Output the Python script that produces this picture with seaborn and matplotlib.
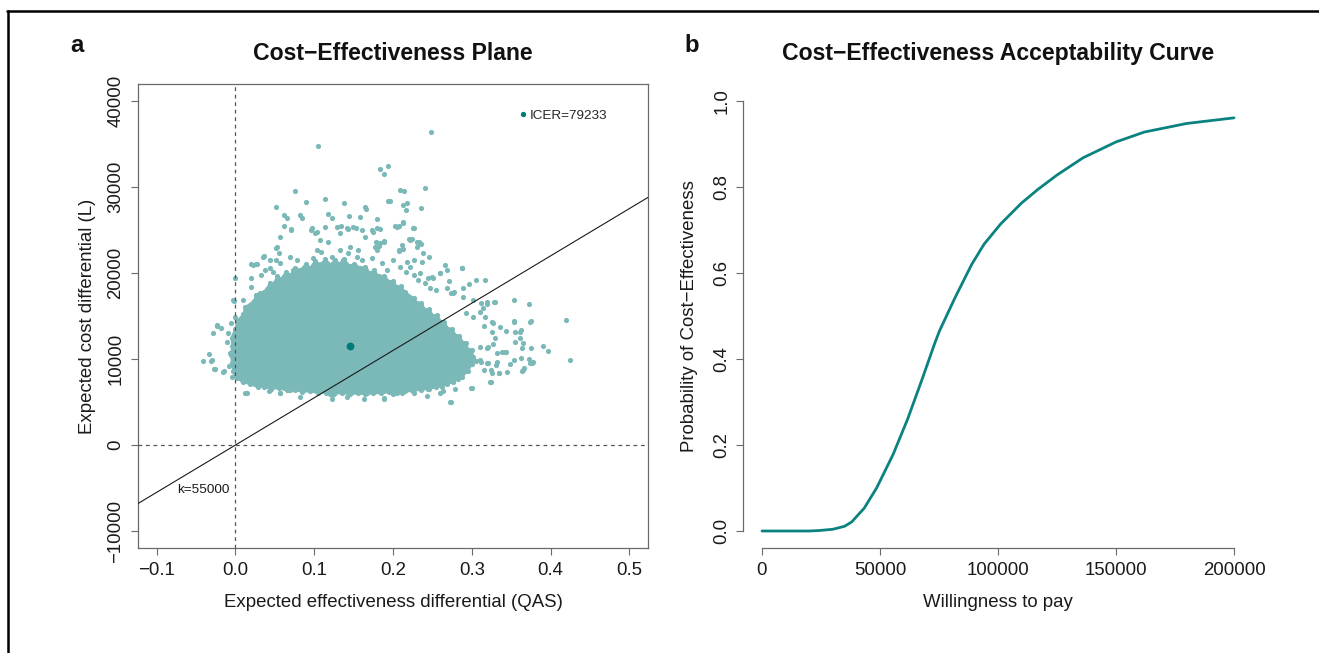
import matplotlib
matplotlib.use("Agg")
import matplotlib.pyplot as plt
from matplotlib.lines import Line2D
import seaborn as sns

# ---------------- data ----------------
# Panel a: dense core of the simulation cloud (outline, data units)
CORE_EFF = [0.010, 0.002, -0.003, -0.004, -0.006, -0.004, -0.005, 0.000, 0.002, 0.010,
            0.012, 0.024, 0.026, 0.036, 0.040, 0.044, 0.048, 0.053, 0.058, 0.064,
            0.070, 0.076, 0.082, 0.089, 0.095, 0.101, 0.108, 0.114, 0.120, 0.126,
            0.132, 0.138, 0.145, 0.151, 0.158, 0.164, 0.170, 0.176, 0.182, 0.189,
            0.195, 0.200, 0.205, 0.210, 0.215, 0.226, 0.231, 0.236, 0.241, 0.246,
            0.251, 0.256, 0.261, 0.265, 0.270, 0.275, 0.280, 0.284, 0.289, 0.292,
            0.296, 0.300, 0.302, 0.305, 0.300, 0.295, 0.287, 0.282, 0.276, 0.268,
            0.262, 0.254, 0.245, 0.235, 0.225, 0.215, 0.205, 0.195, 0.185, 0.175,
            0.165, 0.155, 0.145, 0.135, 0.125, 0.115, 0.105, 0.095, 0.085, 0.075,
            0.065, 0.055, 0.045, 0.036, 0.028, 0.018]
CORE_COST = [7300, 7800, 8600, 9500, 10500, 11500, 12500, 13500, 14400, 15200,
             16000, 16800, 17500, 17800, 18200, 18900, 18700, 19600, 19300, 20100,
             19800, 20600, 20300, 21000, 20600, 21400, 21000, 21600, 20900, 21500,
             21100, 21600, 20800, 21100, 20600, 20700, 20000, 20300, 19600, 19700,
             19000, 19100, 18400, 18500, 17800, 17100, 16500, 16500, 15700, 15800,
             15000, 15100, 14300, 14300, 13500, 13500, 12700, 12700, 11900, 11900,
             11000, 11000, 10200, 9800, 9400, 8600, 7900, 7700, 7300, 7100,
             6800, 6700, 6500, 6450, 6250, 6250, 6100, 6150, 6000, 6050,
             5900, 6000, 5900, 6050, 5950, 6150, 6050, 6250, 6200, 6400,
             6350, 6600, 6550, 6800, 6750, 7100]

# Panel a: individual simulation points outside the dense core
SCATTER_EFF = [
    0.105, 0.248, 0.183, 0.194, 0.188, 0.075, 0.114, 0.090, 0.138, 0.052,
    0.209, 0.214, 0.240, 0.193, 0.196, 0.213, 0.218, 0.216, 0.235, 0.165,
    0.166, 0.158, 0.144, 0.118, 0.123, 0.062, 0.066, 0.082, 0.084, 0.179,
    0.203, 0.208, 0.213, 0.225, 0.061, 0.070, 0.113, 0.129, 0.134, 0.153,
    0.143, 0.096, 0.101, 0.036, 0.053, 0.055, 0.052, 0.020, 0.026, 0.000,
    -0.002, 0.305, 0.317, 0.287, 0.266, 0.260, 0.271, 0.354, 0.372, 0.328,
    0.319, 0.314, 0.297, 0.289, 0.278, 0.274, 0.233, 0.230, 0.235, 0.220,
    0.224, 0.207, 0.213, 0.178, 0.182, 0.188, 0.173, 0.179, 0.183, 0.218,
    0.237, 0.244, 0.249,
    -0.041, -0.031, -0.033, -0.027, -0.015, -0.008, -0.029, -0.023, -0.018, -0.010,
    -0.006, 0.012, -0.005, -0.001, 0.043, 0.057, 0.068, 0.083, 0.122, 0.163,
    0.188, 0.123, 0.115, 0.211, 0.224, 0.244, 0.273, 0.263, 0.279, 0.299,
    0.324, 0.334, 0.331, 0.364, 0.366, 0.377, 0.372, 0.353, 0.348, 0.343,
    0.338, 0.375, 0.364, 0.390, 0.397, 0.424, 0.420, 0.375, 0.353, 0.362,
    0.355, 0.361, 0.343, 0.325, 0.315, 0.329, 0.327, 0.321, 0.345, 0.324,
    0.321, 0.312,
    0.056, 0.070, 0.035, 0.052, 0.022, 0.027, 0.020, 0.033, 0.044, 0.097,
    0.103, 0.107, 0.118, 0.103, 0.133, 0.141, 0.149, 0.160, 0.164, 0.175,
    0.145, 0.133, 0.156, 0.177, 0.183, 0.188, 0.207, 0.211, 0.221, 0.230,
    0.234, 0.226, 0.205, 0.212, 0.238, 0.245, 0.226, 0.221, 0.234, 0.251,
    0.260, 0.268, 0.287, 0.268, 0.276, 0.289, 0.302, 0.312, 0.319, 0.329,
    0.293, 0.302, 0.310, 0.317, 0.327, 0.325, 0.336, 0.353, 0.361, 0.374,
    0.355, 0.365, 0.310, 0.319, 0.332, 0.342, 0.310, 0.319, 0.332, 0.315,
    0.325, 0.334, 0.323, 0.300, 0.363, 0.374, 0.365, 0.378,
    -0.030, -0.024, -0.026, -0.016, -0.011, -0.007, -0.005, -0.003, -0.001, 0.010,
    0.014, 0.020, 0.020, 0.031, 0.014, 0.008, 0.014, 0.044, 0.056, 0.069,
    0.082,
    0.037, 0.044, 0.048, 0.056, 0.061, 0.069, 0.073, 0.078, 0.084, 0.090,
    0.099, 0.103, 0.109, 0.116, 0.122, 0.128, 0.137, 0.143, 0.149, 0.154,
    0.160, 0.166, 0.173, 0.179, 0.186, 0.192, 0.200, 0.209, 0.217, 0.226,
    0.232, 0.240, 0.247, 0.255,
    0.120, 0.141, 0.167, 0.188, 0.200, 0.226, 0.243, 0.260, 0.272,
]
SCATTER_COST = [
    34770, 36440, 32140, 32490, 31480, 29500, 28570, 28260, 28180, 27640,
    29660, 29500, 29850, 28340, 28340, 27910, 28110, 27330, 27530, 27720,
    27490, 26480, 26670, 26830, 26400, 26750, 26400, 26750, 26440, 26250,
    25510, 25510, 25900, 25280, 25470, 25120, 25390, 25350, 25430, 25200,
    25120, 25000, 24620, 22020, 23070, 22290, 21520, 21010, 21090, 19390,
    16790, 19190, 19190, 20620, 20930, 20040, 19070, 16860, 16400, 16670,
    16400, 15970, 18690, 18300, 17830, 17640, 23650, 23070, 23340, 23920,
    23920, 22600, 22760, 23610, 23180, 23690, 24970, 25200, 25090, 21320,
    21320, 19390, 19580,
    9770, 9770, 10580, 8840, 8610, 9190, 12990, 13840, 13650, 12990,
    14190, 6010, 7950, 8140, 6320, 6090, 6400, 6400, 5350, 5310,
    5310, 5820, 6010, 6010, 6400, 6480, 4970, 6280, 6480, 6590,
    7290, 8410, 9270, 8610, 8920, 9570, 9960, 9890, 9420, 10860,
    10860, 11240, 11240, 11510, 10970, 9890, 14540, 14460, 14460, 13370,
    13100, 12480, 13290, 14340, 13840, 12410, 11750, 11440, 8530, 8720,
    9500, 9690,
    24230, 25000, 21900, 22880, 20930, 21050, 19390, 19770, 20550, 25200,
    24810, 23840, 23640, 22680, 24620, 25200, 25390, 25000, 24230, 24810,
    22990, 22680, 22680, 23060, 23460, 23640, 22680, 23260, 23840, 23640,
    23460, 25200, 25390, 25850, 22290, 21900, 21520, 20740, 19970, 19390,
    19970, 20350, 20550, 18220, 17640, 17250, 16860, 16480, 16670, 16670,
    15320, 14920, 15500, 14920, 14150, 13180, 13760, 14340, 13180, 14340,
    12010, 11830, 11430, 11250, 10660, 10850, 9890, 9500, 9690, 8720,
    8340, 8340, 7360, 6590, 10080, 9500, 8720, 9690,
    9890, 13960, 8800, 8520, 12010, 10660, 9500, 16860, 14920, 16860,
    14920, 16080, 18410, 17640, 8340, 7560, 6010, 6400, 6010, 6400,
    5620,
    20350, 21520, 20160, 21130, 19570, 21900, 20350, 21520, 19770, 20740,
    21710, 20350, 22480, 21130, 21900, 20350, 21520, 22290, 20740, 21900,
    21520, 20350, 21710, 22680, 21130, 20350, 21520, 20740, 20160, 19770,
    19190, 18810, 18220, 18030,
    5900, 5600, 6000, 5500, 5900, 6100, 5700, 6000, 5050,
]

MEAN_EFF = 0.1452
MEAN_COST = 11505
ICER = 79233
K = 55000

X_TICKS_A = [-0.1, 0.0, 0.1, 0.2, 0.3, 0.4, 0.5]
Y_TICKS_A = [-10000, 0, 10000, 20000, 30000, 40000]

# Panel b: cost-effectiveness acceptability curve
WTP = [0, 10000, 20000, 24000, 30000, 35000, 38000, 43300, 48560, 55550,
       61690, 67840, 73090, 75170, 81820, 88840, 94070, 101100, 110000, 117000,
       125000, 136000, 150000, 162000, 180000, 200000]
PROB = [0.0, 0.0, 0.0, 0.001, 0.004, 0.011, 0.021, 0.053, 0.100, 0.178,
        0.260, 0.353, 0.435, 0.465, 0.543, 0.620, 0.667, 0.714, 0.763, 0.795,
        0.828, 0.868, 0.905, 0.928, 0.948, 0.961]
X_TICKS_B = [0, 50000, 100000, 150000, 200000]
Y_TICKS_B = [0.0, 0.2, 0.4, 0.6, 0.8, 1.0]

# ---------------- style ----------------
sns.set_style("ticks")
plt.rcParams['font.family'] = ['Liberation Sans', 'DejaVu Sans']
plt.rcParams['axes.unicode_minus'] = True

CLOUD = "#7BB9B8"
DARK = "#007B7B"
CURVE = "#0A8380"
SPINE = "#6a6a6a"
TXT = "#1a1a1a"
FS = 13.4
FS_SMALL = 9.7
FS_TITLE = 16.6

W, H = 1319, 653
fig = plt.figure(figsize=(W / 100, H / 100), dpi=100)


def fx(px):
    return px / W


def fy(py):
    return 1 - py / H


axA = fig.add_axes([fx(137.8), fy(548.2), fx(648.3) - fx(137.8), fy(83.9) - fy(548.2)])
axB = fig.add_axes([fx(743.1), fy(548.2), fx(1252.9) - fx(743.1), fy(83.9) - fy(548.2)])

# ---------------- panel a ----------------
axA.fill(CORE_EFF, CORE_COST, color=CLOUD, ec=CLOUD, lw=1.5, zorder=2)
sns.scatterplot(x=SCATTER_EFF + CORE_EFF, y=SCATTER_COST + CORE_COST, ax=axA,
                color=CLOUD, s=14, linewidth=0, zorder=2)
axA.axvline(0, color="#555555", lw=0.9, ls=(0, (3, 3)), zorder=3)
axA.axhline(0, color="#555555", lw=0.9, ls=(0, (3, 3)), zorder=3)
axA.axline((0, 0), slope=K, color="#1a1a1a", lw=0.8, zorder=3)
sns.scatterplot(x=[MEAN_EFF], y=[MEAN_COST], ax=axA, color=DARK, s=32,
                linewidth=0, zorder=4)
axA.text(-0.007, -5600, f"k={K}", ha="right", va="baseline",
         fontsize=FS_SMALL, color=TXT)

axA.set_xlim(-0.124, 0.524)
axA.set_ylim(-12000, 42000)
axA.set_xticks(X_TICKS_A)
axA.set_xticklabels([f"{v:.1f}".replace("-", "\u2212") for v in X_TICKS_A])
axA.set_yticks(Y_TICKS_A)
axA.set_yticklabels([f"{v:d}".replace("-", "\u2212") for v in Y_TICKS_A],
                    rotation=90, va="center")
axA.set_xlabel("")
axA.set_ylabel("")
for sp in axA.spines.values():
    sp.set_color(SPINE)
    sp.set_linewidth(0.9)
axA.tick_params(axis="both", length=5.2, width=0.8, color=SPINE,
                labelsize=FS, labelcolor=TXT)
axA.tick_params(axis="x", pad=5.0)
axA.tick_params(axis="y", pad=4.6)

handle = Line2D([], [], marker="o", ls="none", color=DARK, markersize=2.8)
axA.legend([handle], [f"ICER={ICER}"], loc="center left",
           bbox_to_anchor=((520.1 - 137.8) / 510.5, (548.2 - 115.7) / 464.3),
           frameon=False, fontsize=FS_SMALL, handlelength=0.4,
           handletextpad=0.3, borderpad=0, borderaxespad=0)

# ---------------- panel b ----------------
sns.lineplot(x=WTP, y=PROB, ax=axB, color=CURVE, lw=2.0)
axB.set_xlim(-8000, 208000)
axB.set_ylim(-0.04, 1.04)
axB.set_xticks(X_TICKS_B)
axB.set_xticklabels([str(v) for v in X_TICKS_B])
axB.set_yticks(Y_TICKS_B)
axB.set_yticklabels([f"{v:.1f}" for v in Y_TICKS_B], rotation=90, va="center")
axB.set_xlabel("")
axB.set_ylabel("")
axB.spines["top"].set_visible(False)
axB.spines["right"].set_visible(False)
axB.spines["left"].set_bounds(0, 1)
axB.spines["bottom"].set_bounds(0, 200000)
for sp in ("left", "bottom"):
    axB.spines[sp].set_color(SPINE)
    axB.spines[sp].set_linewidth(0.9)
axB.tick_params(axis="both", length=5.2, width=0.8, color=SPINE,
                labelsize=FS, labelcolor=TXT)
axB.tick_params(axis="x", pad=5.0)
axB.tick_params(axis="y", pad=4.0)

# ---------------- texts ----------------
fig.text(fx(393.0), fy(60), "Cost\u2212Effectiveness Plane", ha="center",
         va="baseline", fontsize=FS_TITLE, fontweight="bold", color="#111111")
fig.text(fx(998.0), fy(60), "Cost\u2212Effectiveness Acceptability Curve",
         ha="center", va="baseline", fontsize=FS_TITLE, fontweight="bold",
         color="#111111")
fig.text(fx(70), fy(51.7), "a", ha="left", va="baseline", fontsize=17.2,
         fontweight="bold", color="#111111")
fig.text(fx(684), fy(51.7), "b", ha="left", va="baseline", fontsize=17.2,
         fontweight="bold", color="#111111")

fig.text(fx(393.0), fy(607), "Expected effectiveness differential (QAS)",
         ha="center", va="baseline", fontsize=FS, color=TXT)
fig.text(fx(998.0), fy(607), "Willingness to pay", ha="center",
         va="baseline", fontsize=FS, color=TXT)
fig.text(fx(91.7), fy(316), "Expected cost differential (L)", rotation=90,
         rotation_mode="anchor", ha="center", va="baseline", fontsize=FS,
         color=TXT)
fig.text(fx(694), fy(316), "Probability of Cost\u2212Effectiveness",
         rotation=90, rotation_mode="anchor", ha="center", va="baseline",
         fontsize=FS, color=TXT)

# ---------------- outer frame (top and left edges) ----------------
fig.add_artist(Line2D([fx(8.3), fx(8.3)], [0, fy(11)], transform=fig.transFigure,
                      color="black", lw=1.8))
fig.add_artist(Line2D([fx(7.4), 1], [fy(11), fy(11)], transform=fig.transFigure,
                      color="black", lw=1.8))

fig.savefig("out.png", dpi=100)
